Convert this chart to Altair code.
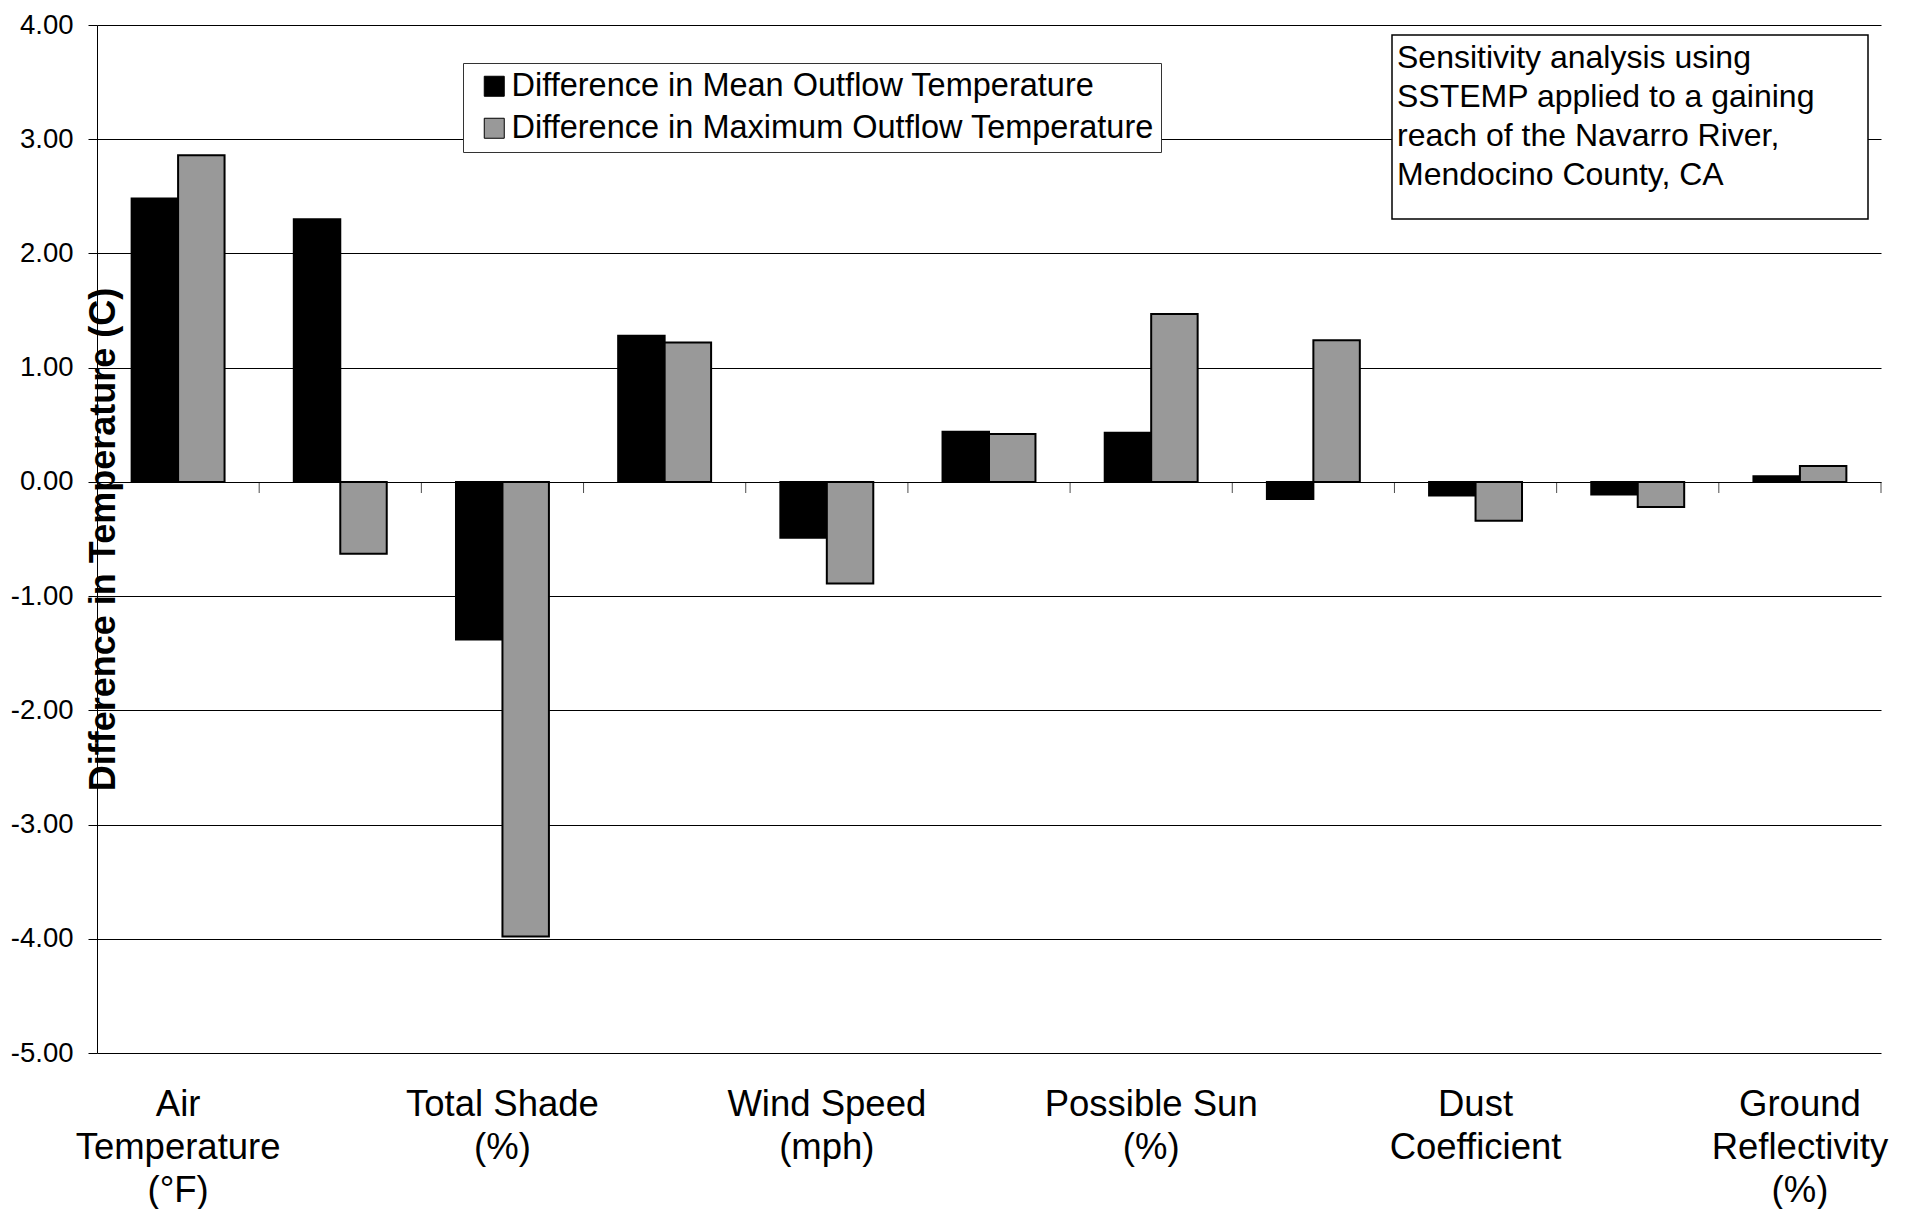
import json
import altair as alt
import pandas as pd

SERIES = ["Difference in Mean Outflow Temperature", "Difference in Maximum Outflow Temperature"]
CATEGORY_LABELS = [
    ["Air", "Temperature", "(°F)"], [""],
    ["Total Shade", "(%)"], [""],
    ["Wind Speed", "(mph)"], [""],
    ["Possible Sun", "(%)"], [""],
    ["Dust", "Coefficient"], [""],
    ["Ground", "Reflectivity", "(%)"],
]
MEAN_DIFF = [2.48, 2.30, -1.38, 1.28, -0.49, 0.44, 0.43, -0.15, -0.12, -0.11, 0.05]
MAX_DIFF = [2.86, -0.63, -3.98, 1.22, -0.89, 0.42, 1.47, 1.24, -0.34, -0.22, 0.14]
Y_TICKS = [-5, -4, -3, -2, -1, 0, 1, 2, 3, 4]
NOTE_LINES = ["Sensitivity analysis using", "SSTEMP applied to a gaining",
              "reach of the Navarro River,", "Mendocino County, CA"]

FONT = "Liberation Sans"
W, H = 1784, 1028

rows = []
for i, (m, x) in enumerate(zip(MEAN_DIFF, MAX_DIFF)):
    rows.append({"cat": i, "series": SERIES[0], "value": m})
    rows.append({"cat": i, "series": SERIES[1], "value": x})
df = pd.DataFrame(rows)
cats = pd.DataFrame({"cat": list(range(len(CATEGORY_LABELS)))})

label_expr = json.dumps(CATEGORY_LABELS, ensure_ascii=False) + "[datum.value]"
y_label_expr = "replace(format(datum.value, '.2f'), '\u2212', '-')"

bars = alt.Chart(df).mark_bar(stroke="black", strokeWidth=2).encode(
    x=alt.X("cat:O", scale=alt.Scale(paddingInner=0.427, paddingOuter=0.2135),
            axis=alt.Axis(title=None, labelExpr=label_expr, labelAngle=0,
                          labelFontSize=36.5, labelLineHeight=43, labelPadding=33,
                          labelColor="black", labelFont=FONT, labelLimit=0,
                          ticks=False, tickSize=0, domain=False, grid=False)),
    xOffset=alt.XOffset("series:N", sort=SERIES,
                        scale=alt.Scale(paddingInner=0, paddingOuter=0)),
    y=alt.Y("value:Q",
            scale=alt.Scale(domain=[-5, 4], nice=False, zero=False),
            axis=alt.Axis(title="Difference in Temperature (C)", values=Y_TICKS,
                          labelExpr=y_label_expr, labelFontSize=27.5, labelFont=FONT,
                          labelColor="black", labelPadding=15, tickSize=9,
                          tickColor="black", domainColor="black",
                          grid=True, gridColor="#000000", gridWidth=1,
                          titleFont=FONT, titleFontSize=36, titleFontWeight="bold",
                          titleColor="black", titleAngle=270, titleX=17,
                          titleY=H / 2, titleAlign="center",
                          titleBaseline="alphabetic")),
    color=alt.Color("series:N", sort=SERIES,
                    scale=alt.Scale(domain=SERIES, range=["#000000", "#999999"]),
                    legend=alt.Legend(orient="none", legendX=366, legendY=38,
                                      title=None, fillColor="white",
                                      strokeColor="#333333", padding=7,
                                      labelFontSize=32.5, labelFont=FONT,
                                      labelColor="black", symbolType="square",
                                      symbolSize=400, symbolStrokeColor="black",
                                      symbolStrokeWidth=1, rowPadding=9,
                                      labelOffset=1, labelLimit=0,
                                      symbolOffset=8)),
)

ticks = alt.Chart(cats).mark_tick(orient="vertical", size=11, thickness=1,
                                  color="black", yOffset=5.5).encode(
    x=alt.X("cat:O", bandPosition=1,
            scale=alt.Scale(paddingInner=0, paddingOuter=0), axis=None),
    y=alt.datum(0),
)

note_box = alt.Chart(alt.Data(values=[{}])).mark_rect(
    fill="white", stroke="black", strokeWidth=1.5).encode(
    x=alt.value(1295), x2=alt.value(1771), y=alt.value(10), y2=alt.value(194))

note_text = alt.Chart(alt.Data(values=[{}])).mark_text(
    text=NOTE_LINES, align="left", baseline="top", font=FONT, fontSize=32,
    lineHeight=39, color="black").encode(x=alt.value(1300), y=alt.value(18))

chart = alt.layer(bars, ticks, note_box, note_text).resolve_scale(
    x="independent"
).properties(
    width=W, height=H,
    autosize=alt.AutoSizeParams(type="none"),
    padding={"left": 89, "top": 17, "right": 10, "bottom": 156},
    background="white",
).configure(font=FONT).configure_view(stroke=None)

chart.save("out.html", embed_options={"renderer": "svg", "actions": False})
